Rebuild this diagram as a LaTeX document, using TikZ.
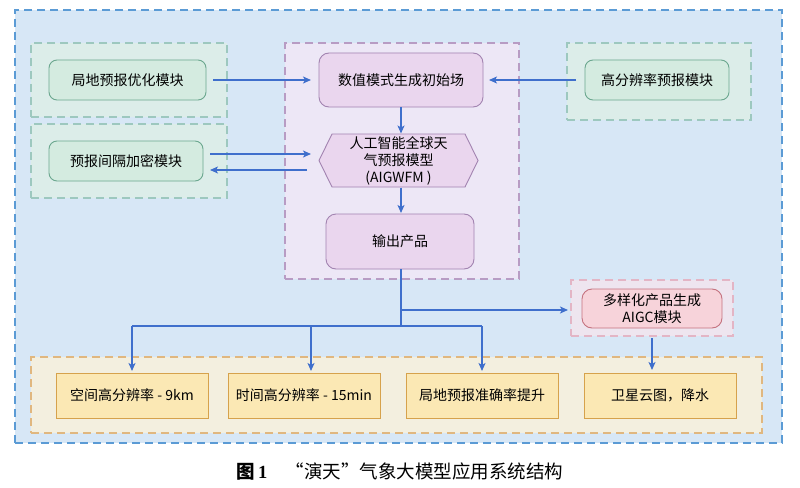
\documentclass[tikz,border=0pt]{standalone}
\usepackage{fontspec}
\setmainfont{Noto Sans CJK SC}
\newfontfamily\serifnum{Liberation Serif}
\usetikzlibrary{arrows.meta,calc}
\definecolor{outerfill}{HTML}{D7E7F6}
\definecolor{outerdraw}{HTML}{5B9BD5}
\definecolor{ggfill}{HTML}{DCEDE9}
\definecolor{ggdraw}{HTML}{9DC8BF}
\definecolor{gnfill}{HTML}{D4EBE0}
\definecolor{gndraw}{HTML}{6BA78F}
\definecolor{pgfill}{HTML}{EDE7F6}
\definecolor{pgdraw}{HTML}{B89CC4}
\definecolor{pnfill}{HTML}{EAD6EE}
\definecolor{pndraw}{HTML}{A283B0}
\definecolor{kgfill}{HTML}{EEE5EF}
\definecolor{kgdraw}{HTML}{E3B5C5}
\definecolor{knfill}{HTML}{F7D3DA}
\definecolor{kndraw}{HTML}{C4727F}
\definecolor{ogfill}{HTML}{F3EFDF}
\definecolor{ogdraw}{HTML}{E0B77F}
\definecolor{ynfill}{HTML}{FBE8B4}
\definecolor{yndraw}{HTML}{D6A24C}
\definecolor{arrcol}{HTML}{3F6FCC}
\begin{document}
\begin{tikzpicture}[x=1pt,y=-1pt,
  every node/.style={inner sep=0pt,outer sep=0pt,align=center,font=\fontsize{14}{17}\selectfont},
  grp/.style={draw,dash pattern=on 8pt off 5pt,line width=1.6pt},
  outergrp/.style={grp,fill=outerfill,draw=outerdraw},
  greengrp/.style={grp,fill=ggfill,draw=ggdraw},
  purplegrp/.style={grp,fill=pgfill,draw=pgdraw},
  pinkgrp/.style={grp,fill=kgfill,draw=kgdraw},
  orangegrp/.style={grp,fill=ogfill,draw=ogdraw},
  gnode/.style={draw=gndraw,fill=gnfill,line width=0.9pt,rounded corners=8pt,minimum height=40pt},
  pnode/.style={draw=pndraw,fill=pnfill,line width=0.9pt,rounded corners=10pt},
  knode/.style={draw=kndraw,fill=knfill,line width=0.9pt,rounded corners=10pt},
  ynode/.style={draw=yndraw,fill=ynfill,line width=0.9pt,minimum width=152pt,minimum height=45pt},
  arr/.style={draw=arrcol,line width=1.5pt,-{Stealth[length=8pt,width=7pt,inset=2pt]}},
  conn/.style={draw=arrcol,line width=1.5pt}
]
\useasboundingbox (0,0) rectangle (800,487);
% groups
\node[outergrp,minimum width=767pt,minimum height=433pt] (outer) at (398.5,226.5) {};
\node[greengrp,minimum width=196pt,minimum height=74pt] (g1) at (129,80) {};
\node[greengrp,minimum width=196pt,minimum height=74pt] (g2) at (129,161) {};
\node[greengrp,minimum width=184pt,minimum height=77pt] (g3) at (659,81.5) {};
\node[purplegrp,minimum width=234pt,minimum height=236pt] (pg) at (402,161) {};
\node[pinkgrp,minimum width=162pt,minimum height=56pt] (kg) at (652,308) {};
\node[orangegrp,minimum width=731pt,minimum height=76pt] (og) at (396.5,395) {};
% green nodes
\node[gnode,minimum width=157pt] (jd) at (127.5,80) {局地预报优化模块};
\node[gnode,minimum width=154pt] (yb) at (126,161) {预报间隔加密模块};
\node[gnode,minimum width=144pt] (gf) at (657,80) {高分辨率预报模块};
% purple nodes
\node[pnode,minimum width=164pt,minimum height=54pt] (sz) at (401,80) {数值模式生成初始场};
\fill[pnfill,draw=pndraw,line width=0.9pt] (319,160.5) -- (332,134) -- (465,134) -- (478,160.5) -- (465,187) -- (332,187) -- cycle;
\node[minimum width=159pt,minimum height=53pt] (hex) at (398.5,161) {人工智能全球天\\气预报模型\\(AIGWFM )};
\node[pnode,minimum width=148pt,minimum height=55pt] (out) at (400,241.5) {输出产品};
% pink node
\node[knode,minimum width=140pt,minimum height=39pt] (aigc) at (652,308.5) {多样化产品生成\\AIGC模块};
% yellow nodes
\node[ynode] (b1) at (132,395.5) {空间高分辨率 - 9km};
\node[ynode] (b2) at (304,395.5) {时间高分辨率 - 15min};
\node[ynode] (b3) at (482,395.5) {局地预报准确率提升};
\node[ynode] (b4) at (660,395.5) {卫星云图，降水};
% connectors
\draw[arr,shorten <=7pt,shorten >=8pt] (jd.east) -- (jd.east -| sz.west);
\draw[arr,shorten <=9pt,shorten >=6pt] (gf.west) -- (gf.west -| sz.east);
\draw[arr,shorten <=7pt,shorten >=8pt] ($(yb.east)+(0,-7)$) -- ($(yb.east -| hex.west)+(0,-7)$);
\draw[arr,shorten <=12pt,shorten >=7pt] ($(yb.east -| hex.west)+(0,9)$) -- ($(yb.east)+(0,9)$);
\coordinate (c0) at (sz.south |- out.south);
\draw[arr,shorten >=1pt] (sz.south) -- (sz.south |- hex.north);
\draw[arr,shorten >=1pt] (sz.south |- hex.south) -- (sz.south |- out.north);
\coordinate (c1) at ($(c0 |- kg.west)+(0,2)$);
\coordinate (c2) at ($(c0)+(0,57)$);
\draw[conn] (c0) -- (c2);
\draw[arr,shorten >=3pt] (c1) -- (c1 -| kg.west);
\draw[conn] (c2 -| b1.north) -- (c2 -| b3.north);
\draw[arr,shorten >=2pt] (c2 -| b1.north) -- (b1.north);
\draw[arr,shorten >=2pt] ($(c2 -| b2.north)+(7,0)$) -- ($(b2.north)+(7,0)$);
\draw[arr,shorten >=2pt] (c2 -| b3.north) -- (b3.north);
\draw[arr,shorten <=10pt,shorten >=3pt] (aigc.south) -- (aigc.south |- b4.north);
% caption
\node[font=\fontsize{18.5}{21}\selectfont] (cap) at (400,472) {{\bfseries 图\,\serifnum 1}\quad “演天”气象大模型应用系统结构};
\end{tikzpicture}
\end{document}
